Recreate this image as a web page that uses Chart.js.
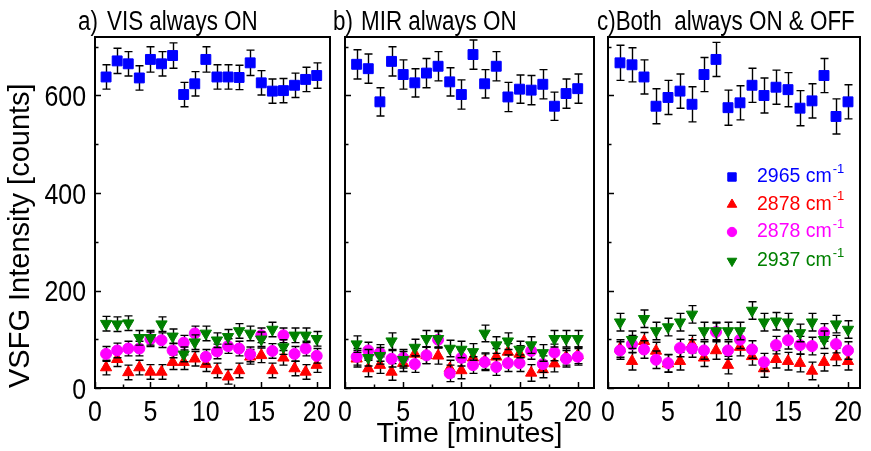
<!DOCTYPE html>
<html><head><meta charset="utf-8">
<script src="https://cdn.jsdelivr.net/npm/chart.js@4/dist/chart.umd.min.js"></script>
<style>
html,body{margin:0;padding:0;background:#fff;}
#wrap{position:relative;width:871px;height:451px;overflow:hidden;background:#fff;}
canvas{position:absolute;left:0;top:0;}
</style></head><body>
<div id="wrap">
<canvas id="ca" width="871" height="451"></canvas>
<canvas id="cb" width="871" height="451"></canvas>
<canvas id="cc" width="871" height="451"></canvas>
</div>
<script>
// ---------- data ----------
const times = [1,2,3,4,5,6,7,8,9,10,11,12,13,14,15,16,17,18,19,20];
const xTickValues = [0,5,10,15,20];
const xMinorValues = [2.5,7.5,12.5,17.5];
const yTickValues = [0,200,400,600];
const yMinorValues = [100,300,500,700];
const seriesNames = ['2965', '2878', '2878', '2937'];
const unitText = ' cm';
const unitSup = '-1';
const yTitle = 'VSFG Intensity [counts]';
const xTitle = 'Time [minutes]';

// panel a) VIS always ON
const a2965 = [638,671,665,636,674,665,682,602,624,674,638,638,637,667,626,609,610,621,633,641];
const a2878r = [42,59,32,42,33,33,53,53,60,49,36,23,36,64,67,36,62,40,33,47];
const a2878m = [70,77,81,81,100,98,77,93,112,64,75,86,81,69,108,76,108,70,81,66];
const a2937 = [132,131,133,103,103,131,106,69,94,112,98,105,117,112,100,120,84,108,108,101];
const aHighErr = [25,26,25,25,26,25,26,25,25,26,25,25,25,26,25,25,25,25,25,26];
const aLowErr = [15,15,15,15,15,15,15,15,15,15,15,15,15,15,15,15,15,15,15,15];

// panel b) MIR always ON
const b2965 = [664,655,587,670,643,626,646,660,628,602,684,624,660,597,613,611,623,578,604,614];
const b2878r = [60,40,47,33,51,70,67,66,40,36,62,55,64,74,70,31,38,50,64,67];
const b2878m = [64,77,72,60,62,49,67,99,30,62,47,53,43,51,51,76,49,73,60,64];
const b2937 = [90,62,66,96,58,83,101,101,81,79,74,112,88,96,79,88,72,101,101,101];
const bHighErr = [30,30,29,30,30,29,30,30,29,30,30,29,30,30,29,30,30,29,30,30];
const bLowErr = [17,17,17,17,17,17,17,17,17,17,17,17,17,17,17,17,17,17,17,17];

// panel c) Both always ON & OFF
const c2965 = [667,663,638,578,596,609,582,643,674,575,585,621,600,617,612,574,589,641,557,587];
const c2878r = [81,55,96,76,50,55,90,62,77,47,84,65,40,59,55,51,35,53,64,55];
const c2878m = [77,90,79,58,51,82,81,77,115,77,99,79,53,88,98,88,86,114,90,77];
const c2937 = [135,99,142,117,125,135,151,117,117,117,117,159,135,137,135,113,135,99,131,120];
const cHighErr = [36,35,35,36,35,35,36,35,35,36,35,35,36,35,35,36,35,35,36,35];
const cLowErr = [18,18,18,18,18,18,18,18,18,18,18,18,18,18,18,18,18,18,18,18];

// ---------- styles ----------
const REGULAR = '"Liberation Sans", Arial, sans-serif';
const NARROW_X = 0.83; // horizontal condensing of the labels
const styles = [
  {color:'#0000ff', pointStyle:'rect', radius:7, rotation:0, order:3},
  {color:'#ff0000', pointStyle:'triangle', radius:6.5, rotation:0, order:2},
  {color:'#ff00ff', pointStyle:'circle', radius:5.5, rotation:0, order:1},
  {color:'#008000', pointStyle:'triangle', radius:6.5, rotation:180, order:0}
];

function toPts(vals){ return times.map((t,i)=>({x:t, y:vals[i]})); }
function makeDatasets(lists, errs){
  return lists.map((vals,k)=>({
    label: seriesNames[k] + unitText + unitSup,
    data: toPts(vals),
    errors: errs[k],
    pointStyle: styles[k].pointStyle,
    rotation: styles[k].rotation,
    pointRadius: styles[k].radius,
    backgroundColor: styles[k].color,
    borderColor: styles[k].color,
    borderWidth: 1,
    showLine: false,
    order: styles[k].order
  }));
}

function narrowText(ctx, text, x, y, align){
  ctx.save();
  ctx.translate(x, y);
  ctx.scale(NARROW_X, 1);
  ctx.textAlign = align;
  ctx.fillText(text, 0, 0);
  ctx.restore();
}

const errorBars = {
  id:'errorBars',
  beforeDatasetDraw(chart, args){
    const ds = chart.data.datasets[args.index];
    if(!ds.errors) return;
    const ctx = chart.ctx, ys = chart.scales.y;
    ctx.save();
    ctx.strokeStyle = '#000'; ctx.lineWidth = 1.4;
    args.meta.data.forEach((el,j)=>{
      const v = ds.data[j].y, e = ds.errors[j];
      const x = Math.round(el.x)+0.5;
      const y1 = ys.getPixelForValue(v+e), y2 = ys.getPixelForValue(v-e);
      ctx.beginPath();
      ctx.moveTo(x,y1); ctx.lineTo(x,y2);
      ctx.moveTo(x-4,y1); ctx.lineTo(x+4,y1);
      ctx.moveTo(x-4,y2); ctx.lineTo(x+4,y2);
      ctx.stroke();
    });
    ctx.restore();
  }
};

const frameAndDecor = {
  id:'frameAndDecor',
  afterDraw(chart, args, opts){
    const ctx = chart.ctx;
    const {left,right,top,bottom} = chart.chartArea;
    const xs = chart.scales.x, ys = chart.scales.y;
    ctx.save();
    ctx.strokeStyle = '#000'; ctx.lineWidth = 1.5;
    ctx.beginPath();
    xTickValues.forEach(v=>{const p=Math.round(xs.getPixelForValue(v))+0.5; ctx.moveTo(p,bottom); ctx.lineTo(p,bottom-6);});
    xMinorValues.forEach(v=>{const p=Math.round(xs.getPixelForValue(v))+0.5; ctx.moveTo(p,bottom); ctx.lineTo(p,bottom-3.5);});
    yTickValues.forEach(v=>{const p=Math.round(ys.getPixelForValue(v))+0.5; ctx.moveTo(left,p); ctx.lineTo(left+6,p);});
    yMinorValues.forEach(v=>{const p=Math.round(ys.getPixelForValue(v))+0.5; ctx.moveTo(left,p); ctx.lineTo(left+3.5,p);});
    ctx.stroke();
    ctx.lineWidth = 2;
    ctx.strokeRect(left, top, right-left, bottom-top);
    ctx.fillStyle = '#000';
    // tick labels (condensed)
    ctx.font = '30px ' + REGULAR; ctx.textBaseline = 'alphabetic';
    xs.ticks.forEach(t=>{ narrowText(ctx, String(t.value), xs.getPixelForValue(t.value), bottom + 33, 'center'); });
    if(opts.yLabels){
      ys.ticks.forEach(t=>{ narrowText(ctx, String(t.value), left - 9, ys.getPixelForValue(t.value) + 10.5, 'right'); });
    }
    // panel title
    ctx.font = '27px ' + REGULAR;
    (opts.titles||[]).forEach(t=>{ narrowText(ctx, t.text, left + t.dx, 30, 'left'); });
    // legend
    if(opts.legend){
      const L = opts.legend;
      chart.data.datasets.forEach((ds,k)=>{
        const yy = L.y + L.dy[k];
        ctx.fillStyle = ds.backgroundColor; ctx.strokeStyle = ds.borderColor; ctx.lineWidth = 1;
        Chart.helpers.drawPoint(ctx, {pointStyle:ds.pointStyle, rotation:ds.rotation, radius:ds.pointRadius * 0.85, borderWidth:1}, L.x, yy);
        ctx.font = '19.5px ' + REGULAR; ctx.textBaseline = 'middle'; ctx.textAlign = 'left';
        const main = seriesNames[k] + unitText;
        ctx.fillText(main, L.tx, yy);
        const w = ctx.measureText(main).width;
        ctx.font = '13px ' + REGULAR;
        ctx.fillText(unitSup, L.tx + w + 1, yy - 8);
      });
    }
    ctx.restore();
  }
};

function makeChart(id, cfg){
  return new Chart(document.getElementById(id), {
    type:'scatter',
    data:{datasets: makeDatasets(cfg.lists, cfg.errs)},
    options:{
      responsive:false, animation:false, events:[], devicePixelRatio:1,
      layout:{padding:{left:cfg.padL, right:cfg.padR, top:37, bottom:0}},
      plugins:{legend:{display:false}, tooltip:{enabled:false}, title:{display:false},
        frameAndDecor:{titles:cfg.titles, legend:cfg.legend, yLabels:cfg.showY}},
      scales:{
        x:{type:'linear', min:0, max:cfg.xmax,
          grid:{display:false, drawTicks:false}, border:{display:false},
          afterBuildTicks: s=>{ s.ticks = xTickValues.map(v=>({value:v})); },
          afterFit: s=>{ s.height = 63; },
          ticks:{display:false},
          title: cfg.xTitle ? {display:true, text:xTitle, color:'#000', font:{family:REGULAR, size:28.5}, padding:{top:0,bottom:0}} : {display:false}
        },
        y:{type:'linear', min:0, max:720,
          grid:{display:false, drawTicks:false}, border:{display:false},
          afterBuildTicks: s=>{ s.ticks = yTickValues.map(v=>({value:v})); },
          afterFit: s=>{ s.width = cfg.yW; },
          ticks:{display:false},
          title: cfg.yTitle ? {display:true, text:yTitle, align:'start', color:'#000', font:{family:REGULAR, size:29}, padding:{top:4,bottom:0}} : {display:false}
        }
      }
    },
    plugins:[errorBars, frameAndDecor]
  });
}

makeChart('ca', {lists:[a2965,a2878r,a2878m,a2937], errs:[aHighErr,aLowErr,aLowErr,aLowErr],
  padL:0, yW:95, padR:541, xmax:21.2, showY:true, yTitle:true, xTitle:false,
  titles:[{text:'a)', dx:-17},{text:'VIS always ON', dx:12}]});
makeChart('cb', {lists:[b2965,b2878r,b2878m,b2937], errs:[bHighErr,bLowErr,bLowErr,bLowErr],
  padL:335, yW:10, padR:277, xmax:21.4, showY:false, yTitle:false, xTitle:true,
  titles:[{text:'b)', dx:-12},{text:'MIR always ON', dx:16}]});
makeChart('cc', {lists:[c2965,c2878r,c2878m,c2937], errs:[cHighErr,cLowErr,cLowErr,cLowErr],
  padL:598, yW:10, padR:11, xmax:21.0, showY:false, yTitle:false, xTitle:false,
  titles:[{text:'c)Both  always ON & OFF', dx:-11}],
  legend:{x:732, y:177, dy:[0,27.5,55,84], tx:757}});
</script>
</body></html>
